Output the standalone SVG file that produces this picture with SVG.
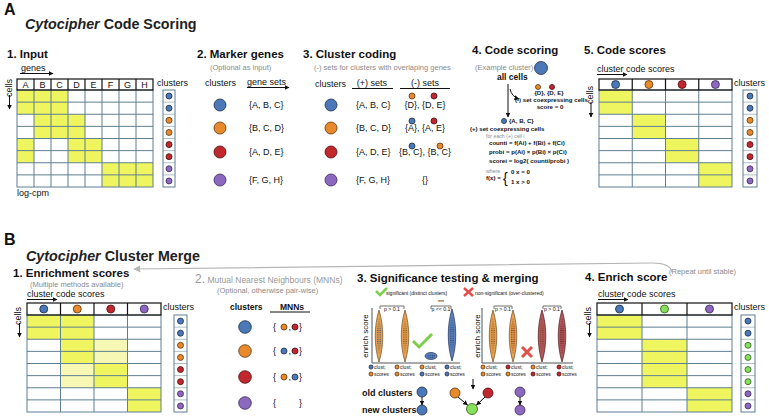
<svg xmlns="http://www.w3.org/2000/svg" width="769" height="417" viewBox="0 0 769 417">
<defs>
<style>
text{font-family:"Liberation Sans",Arial,sans-serif;fill:#111}
.big{font-size:16px;font-weight:bold}
.ttl{font-size:14.3px;font-weight:bold;fill:#222}
.sec{font-size:11.5px;font-weight:bold}
.sub{font-size:7.5px;fill:#8a8a8a}
.gr{fill:#999}
.lb{font-size:9px}
.lbb{font-size:8.5px;font-weight:bold}
.cell{font-size:9px;text-anchor:middle}
.f{font-size:6.1px;font-weight:bold}
.fs{font-size:5.2px;fill:#8a8a8a}
.lg{font-size:5px}
.pv{font-size:5.2px;text-anchor:middle}
.y{fill:#eef55e}
.py{fill:#f6f8b4}
.grid{stroke:#5f7f92;stroke-width:1;fill:none}
.hdr{stroke:#111;stroke-width:1.2;fill:none}
.cB{fill:#4a78b8;stroke:#1d2d48;stroke-width:.8}
.cO{fill:#e8892c;stroke:#5a3510;stroke-width:.8}
.cR{fill:#c1272d;stroke:#4a0f10;stroke-width:.8}
.cP{fill:#8c68c0;stroke:#3a2a55;stroke-width:.8}
.cG{fill:#86e05a;stroke:#2e5a1e;stroke-width:.8}
.ar{stroke:#111;stroke-width:1;fill:none}
.ax{stroke:#555;stroke-width:1;fill:none}
.br{stroke:#333;stroke-width:.7;fill:none}
.vO{fill:#e9a24e;stroke:#6b4a22;stroke-width:.7}
.vB{fill:#5a82bf;stroke:#1e2e4a;stroke-width:.7}
.vR{fill:#b5585c;stroke:#4a1a1a;stroke-width:.7}
</style>
<marker id="ah" viewBox="0 0 10 10" refX="9" refY="5" markerWidth="5" markerHeight="5" orient="auto"><path d="M0,0 L10,5 L0,10 z" fill="#111"/></marker>
<marker id="ahg" viewBox="0 0 10 10" refX="9" refY="5" markerWidth="6" markerHeight="6" orient="auto"><path d="M0,0 L10,5 L0,10 z" fill="#b5b5b5"/></marker>
<pattern id="dB" width="2.2" height="2.2" patternUnits="userSpaceOnUse"><circle cx="1.1" cy="1.1" r="0.65" fill="#243f73"/></pattern>
<pattern id="dO" width="2.2" height="2.2" patternUnits="userSpaceOnUse"><circle cx="1.1" cy="1.1" r="0.65" fill="#6e4010"/></pattern>
<pattern id="dR" width="2.2" height="2.2" patternUnits="userSpaceOnUse"><circle cx="1.1" cy="1.1" r="0.65" fill="#5a1010"/></pattern>
<path id="vio" d="M0,-26 C5,-10 5,10 0,26 C-5,10 -5,-10 0,-26Z"/>
<path id="vin" d="M0,-18 C3,-6 3,6 0,18 C-3,6 -3,-6 0,-18Z"/>
</defs>
<rect width="769" height="417" fill="#fff"/>

<!-- ===== A ===== -->
<g id="titleA">
<text class="big" x="4" y="15">A</text>
<text class="ttl" x="25" y="29"><tspan font-style="italic">Cytocipher</tspan> Code Scoring</text>
</g>

<g id="input">
<text class="sec" x="7" y="58">1. Input</text>
<text class="lb" x="21" y="71">genes</text>
<text class="lb" x="12" y="88" text-anchor="middle" transform="rotate(-90 12 88)">cells</text>
<rect class="y" x="17" y="90" width="51" height="24.25"/>
<rect class="y" x="34" y="114.25" width="51" height="24.25"/>
<rect class="y" x="17" y="138.5" width="17" height="24.25"/>
<rect class="y" x="68" y="138.5" width="34" height="24.25"/>
<rect class="y" x="102" y="162.75" width="51" height="24.25"/>
<rect class="grid" x="17" y="90" width="136" height="97"/>
<path class="grid" d="M17 102.125H153M17 114.25H153M17 126.375H153M17 138.5H153M17 150.625H153M17 162.75H153M17 174.875H153M34 90V187M51 90V187M68 90V187M85 90V187M102 90V187M119 90V187M136 90V187"/>
<rect class="hdr" x="17" y="79" width="136" height="11"/>
<path class="hdr" d="M34 79V90M51 79V90M68 79V90M85 79V90M102 79V90M119 79V90M136 79V90"/>
<text class="cell" x="25.5" y="88">A</text><text class="cell" x="42.5" y="88">B</text><text class="cell" x="59.5" y="88">C</text><text class="cell" x="76.5" y="88">D</text><text class="cell" x="93.5" y="88">E</text><text class="cell" x="110.5" y="88">F</text><text class="cell" x="127.5" y="88">G</text><text class="cell" x="144.5" y="88">H</text>
<text class="lb" x="17" y="196" font-size="8.5">log-cpm</text>
<text class="lb" x="157" y="86">clusters</text>
<rect class="grid" x="163" y="90" width="12" height="97"/>
<path class="grid" d="M163 102.125H175M163 114.25H175M163 126.375H175M163 138.5H175M163 150.625H175M163 162.75H175M163 174.875H175" stroke-opacity=".5"/>
<circle class="cB" cx="169" cy="96.06" r="3"/><circle class="cB" cx="169" cy="108.19" r="3"/><circle class="cO" cx="169" cy="120.31" r="3"/><circle class="cO" cx="169" cy="132.44" r="3"/><circle class="cR" cx="169" cy="144.56" r="3"/><circle class="cR" cx="169" cy="156.69" r="3"/><circle class="cP" cx="169" cy="168.81" r="3"/><circle class="cP" cx="169" cy="180.94" r="3"/>
</g>

<g id="marker-genes">
<text class="sec" x="197" y="58">2. Marker genes</text>
<text class="sub" x="210" y="70">(Optional as input)</text>
<text class="lb" x="205" y="86">clusters</text>
<text class="lb" x="247" y="85">gene sets</text>
<circle class="cB" cx="220" cy="105" r="6"/><circle class="cO" cx="220" cy="128" r="6"/><circle class="cR" cx="220" cy="152" r="6"/><circle class="cP" cx="220" cy="180" r="6"/>
<text class="lb" x="249" y="108">{A, B, C}</text>
<text class="lb" x="249" y="131">{B, C, D}</text>
<text class="lb" x="249" y="155">{A, D, E}</text>
<text class="lb" x="249" y="183">{F, G, H}</text>
</g>

<g id="cluster-coding">
<text class="sec" x="303" y="58">3. Cluster coding</text>
<text class="sub" x="314" y="70" font-size="7.3">(-) sets for clusters with overlaping genes</text>
<text class="lb" x="315" y="87">clusters</text>
<text class="lb" x="372" y="86" text-anchor="middle">(+) sets</text>
<text class="lb" x="425" y="86" text-anchor="middle">(-) sets</text>
<circle class="cB" cx="331" cy="105" r="6"/><circle class="cO" cx="331" cy="128" r="6"/><circle class="cR" cx="331" cy="152" r="6"/><circle class="cP" cx="331" cy="180" r="6"/>
<text class="lb" x="356" y="108">{A, B, C}</text>
<text class="lb" x="356" y="131">{B, C, D}</text>
<text class="lb" x="356" y="155">{A, D, E}</text>
<text class="lb" x="356" y="183">{F, G, H}</text>
<circle class="cO" cx="412" cy="96" r="3"/><circle class="cR" cx="434" cy="96" r="3"/>
<text class="lb" x="425" y="108" text-anchor="middle">{D}, {D, E}</text>
<circle class="cB" cx="412" cy="121" r="3"/><circle class="cR" cx="434" cy="121" r="3"/>
<text class="lb" x="425" y="131" text-anchor="middle">{A}, {A, E}</text>
<circle class="cB" cx="412" cy="146" r="3"/><circle class="cO" cx="440" cy="146" r="3"/>
<text class="lb" x="425" y="155" text-anchor="middle">{B, C}, {B, C}</text>
<text class="lb" x="425" y="183" text-anchor="middle">{}</text>
</g>

<g id="code-scoring">
<text class="sec" x="472" y="54">4. Code scoring</text>
<text class="sub" x="475" y="70" font-size="7">(Example cluster)</text>
<circle class="cB" cx="541" cy="68" r="6.5"/>
<text x="497" y="80" font-size="8.5" font-weight="bold">all cells</text>
<circle class="cO" cx="538" cy="87" r="2.5"/><circle class="cR" cx="552" cy="87" r="2.5"/>
<text class="f" x="549" y="95" text-anchor="middle" font-weight="normal">{D}, {D, E}</text>
<text class="f" x="515" y="102" font-size="5.7">(-) set coexpressing cells</text>
<text class="f" x="550" y="109" text-anchor="middle" font-weight="normal">score = 0</text>
<circle class="cB" cx="504" cy="121" r="2.5"/>
<text class="f" x="509" y="123" font-weight="normal">{A, B, C}</text>
<text class="f" x="470" y="131" font-size="6">(+) set coexpressing cells</text>
<text class="fs" x="486" y="138">for each (+) cell i</text>
<text class="f" x="489" y="145">counti = f(Ai) + f(Bi) + f(Ci)</text>
<text class="f" x="489" y="154">probi = p(Ai) × p(Bi) × p(Ci)</text>
<text class="f" x="489" y="163">scorei = log2( counti/probi )</text>
<text class="fs" x="486" y="173">where</text>
<text class="f" x="486" y="180">f(x) =</text>
<text x="503" y="183" font-size="14">{</text>
<text class="f" x="511" y="174">0  x = 0</text>
<text class="f" x="511" y="184">1  x &gt; 0</text>
</g>

<g id="code-scores">
<text class="sec" x="584" y="54">5. Code scores</text>
<text class="lb" x="597" y="72">cluster code scores</text>
<text class="lb" x="593" y="95" text-anchor="middle" transform="rotate(-90 593 95)">cells</text>
<rect class="y" x="599" y="90" width="33.25" height="24.25"/>
<rect class="y" x="632.25" y="114.25" width="33.25" height="24.25"/>
<rect class="y" x="665.5" y="138.5" width="33.25" height="24.25"/>
<rect class="y" x="698.75" y="162.75" width="33.25" height="24.25"/>
<rect class="grid" x="599" y="90" width="133" height="97"/>
<path class="grid" d="M599 102.125H732M599 114.25H732M599 126.375H732M599 138.5H732M599 150.625H732M599 162.75H732M599 174.875H732M632.25 90V187M665.5 90V187M698.75 90V187"/>
<rect class="hdr" x="599" y="79" width="133" height="11"/>
<path class="hdr" d="M632.25 79V90M665.5 79V90M698.75 79V90"/>
<circle class="cB" cx="615.6" cy="84.5" r="4"/><circle class="cO" cx="648.9" cy="84.5" r="4"/><circle class="cR" cx="682.1" cy="84.5" r="4"/><circle class="cP" cx="715.4" cy="84.5" r="4"/>
<text class="lb" x="734" y="86">clusters</text>
<rect class="grid" x="743" y="90" width="14" height="97"/>
<path class="grid" d="M743 102.125H757M743 114.25H757M743 126.375H757M743 138.5H757M743 150.625H757M743 162.75H757M743 174.875H757" stroke-opacity=".5"/>
<circle class="cB" cx="750" cy="96.06" r="3"/><circle class="cB" cx="750" cy="108.19" r="3"/><circle class="cO" cx="750" cy="120.31" r="3"/><circle class="cO" cx="750" cy="132.44" r="3"/><circle class="cR" cx="750" cy="144.56" r="3"/><circle class="cR" cx="750" cy="156.69" r="3"/><circle class="cP" cx="750" cy="168.81" r="3"/><circle class="cP" cx="750" cy="180.94" r="3"/>
</g>

<!-- ===== B ===== -->
<g id="titleB">
<text class="big" x="4" y="245">B</text>
<text class="ttl" x="26" y="261" font-size="14"><tspan font-style="italic">Cytocipher</tspan> Cluster Merge</text>
</g>

<g id="enrichment">
<text class="sec" x="13" y="277" font-size="11.8">1. Enrichment scores</text>
<text class="sub" x="30" y="287" font-size="6.8">(Multiple methods available)</text>
<text class="lb" x="27" y="297">cluster code scores</text>
<text class="lb" x="21" y="316" text-anchor="middle" transform="rotate(-90 21 316)">cells</text>
<rect class="y" x="27" y="315" width="67" height="24.25"/>
<rect class="y" x="60.5" y="339.25" width="33.5" height="24.25"/>
<rect class="py" x="94" y="339.25" width="33.5" height="24.25"/>
<rect class="py" x="60.5" y="363.5" width="33.5" height="24.25"/>
<rect class="y" x="94" y="363.5" width="33.5" height="24.25"/>
<rect class="y" x="127.5" y="387.75" width="33.5" height="24.25"/>
<rect class="grid" x="27" y="315" width="134" height="97"/>
<path class="grid" d="M27 327.125H161M27 339.25H161M27 351.375H161M27 363.5H161M27 375.625H161M27 387.75H161M27 399.875H161M60.5 315V412M94 315V412M127.5 315V412"/>
<rect class="hdr" x="27" y="303" width="134" height="12"/>
<path class="hdr" d="M60.5 303V315M94 303V315M127.5 303V315"/>
<circle class="cB" cx="43.75" cy="309" r="4"/><circle class="cO" cx="77.25" cy="309" r="4"/><circle class="cR" cx="110.75" cy="309" r="4"/><circle class="cP" cx="144.25" cy="309" r="4"/>
<text class="lb" x="163" y="310">clusters</text>
<rect class="grid" x="174" y="315" width="13" height="97"/>
<path class="grid" d="M174 327.125H187M174 339.25H187M174 351.375H187M174 363.5H187M174 375.625H187M174 387.75H187M174 399.875H187" stroke-opacity=".5"/>
<circle class="cB" cx="180.5" cy="321.06" r="3"/><circle class="cB" cx="180.5" cy="333.19" r="3"/><circle class="cO" cx="180.5" cy="345.31" r="3"/><circle class="cO" cx="180.5" cy="357.44" r="3"/><circle class="cR" cx="180.5" cy="369.56" r="3"/><circle class="cR" cx="180.5" cy="381.69" r="3"/><circle class="cP" cx="180.5" cy="393.81" r="3"/><circle class="cP" cx="180.5" cy="405.94" r="3"/>
</g>

<g id="mnn">
<text class="gr" x="195" y="283"><tspan font-size="12">2.</tspan><tspan font-size="8.5"> Mutual Nearest Neighbours (MNNs)</tspan></text>
<text class="sub" x="217" y="293" font-size="6.8">(Optional, otherwise pair-wise)</text>
<text class="lbb" x="230" y="310">clusters</text>
<text class="lbb" x="280" y="310">MNNs</text>
<circle class="cB" cx="245" cy="327" r="6.3"/><circle class="cO" cx="245" cy="351" r="6.3"/><circle class="cR" cx="245" cy="377" r="6.3"/><circle class="cP" cx="245" cy="403" r="6.3"/>
<text class="lb" x="273" y="330">{</text><circle class="cO" cx="284" cy="327" r="3"/><text class="lb" x="288.5" y="330">,</text><circle class="cR" cx="295" cy="327" r="3"/><text class="lb" x="299" y="330">}</text>
<text class="lb" x="273" y="354">{</text><circle class="cB" cx="284" cy="351" r="3"/><text class="lb" x="288.5" y="354">,</text><circle class="cR" cx="295" cy="351" r="3"/><text class="lb" x="299" y="354">}</text>
<text class="lb" x="273" y="380">{</text><circle class="cO" cx="284" cy="377" r="3"/><text class="lb" x="288.5" y="380">,</text><circle class="cB" cx="295" cy="377" r="3"/><text class="lb" x="299" y="380">}</text>
<text class="lb" x="273" y="406">{</text><text class="lb" x="299" y="406">}</text>
</g>

<g id="significance">
<text class="sec" x="357" y="282" font-size="11.9">3. Significance testing &amp; merging</text>
<path d="M376 291 L380 295 L387 288" stroke="#7ccf4a" stroke-width="2.5" fill="none"/>
<text class="lg" x="386" y="295" font-size="6">significant (distinct clusters)</text>
<path d="M464 288 L473 296 M473 288 L464 296" stroke="#e0504a" stroke-width="2.5" fill="none"/>
<text class="lg" x="475" y="295" font-size="6">non-significant (over-clustered)</text>
<!-- left plot -->
<text x="368" y="336" font-size="8" text-anchor="middle" transform="rotate(-90 368 336)">enrich score</text>
<path class="ax" d="M372 308V363H460"/>
<use href="#vio" x="379" y="336" class="vO"/><use href="#vin" x="379" y="336" fill="url(#dB)"/>
<use href="#vio" x="405" y="336" class="vO"/><use href="#vin" x="405" y="336" fill="url(#dO)"/>
<ellipse cx="431" cy="356" rx="6" ry="3.5" class="vB"/><ellipse cx="431" cy="356" rx="4" ry="2" fill="url(#dB)"/>
<use href="#vio" x="452" y="335" class="vB"/><use href="#vin" x="452" y="335" fill="url(#dB)"/>
<path class="br" d="M380 309V306H404V309"/>
<text class="pv" x="392" y="311">p &gt; 0.1</text>
<path class="br" d="M431 309V306H451V309"/>
<text class="pv" x="441" y="304">***</text>
<text class="pv" x="441" y="311">p &lt;&lt; 0.1</text>
<path d="M413 341 L419 347 L432 334" stroke="#7ccf4a" stroke-width="3" fill="none"/>
<circle class="cB" cx="371" cy="367" r="2"/><text class="lg" x="374" y="369">clust;</text>
<circle class="cO" cx="397" cy="367" r="2"/><text class="lg" x="400" y="369">clust;</text>
<circle class="cO" cx="422" cy="367" r="2"/><text class="lg" x="425" y="369">clust;</text>
<circle class="cB" cx="447" cy="367" r="2"/><text class="lg" x="450" y="369">clust;</text>
<circle class="cO" cx="371" cy="374" r="2"/><text class="lg" x="374" y="376">scores</text>
<circle class="cO" cx="397" cy="374" r="2"/><text class="lg" x="400" y="376">scores</text>
<circle class="cB" cx="422" cy="374" r="2"/><text class="lg" x="425" y="376">scores</text>
<circle class="cB" cx="447" cy="374" r="2"/><text class="lg" x="450" y="376">scores</text>
<!-- right plot -->
<text x="480" y="336" font-size="8" text-anchor="middle" transform="rotate(-90 480 336)">enrich score</text>
<path class="ax" d="M482 308V363H573"/>
<use href="#vio" x="493" y="336" class="vO"/><use href="#vin" x="493" y="336" fill="url(#dO)"/>
<use href="#vio" x="513" y="336" class="vO"/><use href="#vin" x="513" y="336" fill="url(#dR)"/>
<use href="#vio" x="542" y="336" class="vR"/><use href="#vin" x="542" y="336" fill="url(#dO)"/>
<use href="#vio" x="562" y="336" class="vR"/><use href="#vin" x="562" y="336" fill="url(#dR)"/>
<path class="br" d="M494 309V306H512V309"/>
<text class="pv" x="503" y="311">p &gt; 0.1</text>
<path class="br" d="M543 309V306H561V309"/>
<text class="pv" x="552" y="311">p &gt; 0.1</text>
<path d="M522 347 L532 357 M532 347 L522 357" stroke="#e0504a" stroke-width="3" fill="none"/>
<circle class="cO" cx="483" cy="367" r="2"/><text class="lg" x="486" y="369">clust;</text>
<circle class="cR" cx="508" cy="367" r="2"/><text class="lg" x="511" y="369">clust;</text>
<circle class="cO" cx="533" cy="367" r="2"/><text class="lg" x="536" y="369">clust;</text>
<circle class="cR" cx="559" cy="367" r="2"/><text class="lg" x="562" y="369">clust;</text>
<circle class="cO" cx="483" cy="374" r="2"/><text class="lg" x="486" y="376">scores</text>
<circle class="cO" cx="508" cy="374" r="2"/><text class="lg" x="511" y="376">scores</text>
<circle class="cR" cx="533" cy="374" r="2"/><text class="lg" x="536" y="376">scores</text>
<circle class="cR" cx="559" cy="374" r="2"/><text class="lg" x="562" y="376">scores</text>
<!-- merge result -->
<text x="362" y="396" font-size="9" font-weight="bold">old clusters</text>
<text x="362" y="413" font-size="9" font-weight="bold">new clusters</text>
<circle class="cB" cx="422" cy="392" r="5"/><circle class="cB" cx="422" cy="410" r="5"/>
<circle class="cO" cx="455" cy="393" r="5"/><circle class="cR" cx="488" cy="393" r="5"/>
<circle class="cG" cx="472" cy="409" r="5.5"/>
<circle class="cP" cx="520" cy="392" r="5"/><circle class="cP" cx="520" cy="410" r="5"/>
</g>

<g id="enrich-score">
<text class="sec" x="585" y="281" font-size="11.8">4. Enrich score</text>
<text class="sub" x="669" y="274" font-size="6.5">(Repeat until stable)</text>
<text class="lb" x="598" y="297">cluster code scores</text>
<text class="lb" x="591" y="316" text-anchor="middle" transform="rotate(-90 591 316)">cells</text>
<rect class="y" x="597" y="315" width="45" height="24.25"/>
<rect class="y" x="642" y="339.25" width="45" height="48.5"/>
<rect class="y" x="687" y="387.75" width="45" height="24.25"/>
<rect class="grid" x="597" y="315" width="135" height="97"/>
<path class="grid" d="M597 327.125H732M597 339.25H732M597 351.375H732M597 363.5H732M597 375.625H732M597 387.75H732M597 399.875H732M642 315V412M687 315V412"/>
<rect class="hdr" x="597" y="303" width="135" height="12"/>
<path class="hdr" d="M642 303V315M687 303V315"/>
<circle class="cB" cx="619.5" cy="309" r="4"/><circle class="cG" cx="664.5" cy="309" r="4"/><circle class="cP" cx="709.5" cy="309" r="4"/>
<text class="lb" x="734" y="310">clusters</text>
<rect class="grid" x="741" y="315" width="14" height="97"/>
<path class="grid" d="M741 327.125H755M741 339.25H755M741 351.375H755M741 363.5H755M741 375.625H755M741 387.75H755M741 399.875H755" stroke-opacity=".5"/>
<circle class="cB" cx="748" cy="321.06" r="3"/><circle class="cB" cx="748" cy="333.19" r="3"/><circle class="cG" cx="748" cy="345.31" r="3"/><circle class="cG" cx="748" cy="357.44" r="3"/><circle class="cG" cx="748" cy="369.56" r="3"/><circle class="cG" cx="748" cy="381.69" r="3"/><circle class="cP" cx="748" cy="393.81" r="3"/><circle class="cP" cx="748" cy="405.94" r="3"/>
</g>

<g id="connectors">
<line class="ar" x1="20" y1="73.5" x2="53" y2="73.5" marker-end="url(#ah)"/>
<line class="ar" x1="9.5" y1="95" x2="9.5" y2="109" marker-end="url(#ah)"/>
<line class="ar" x1="247" y1="87.5" x2="289" y2="87.5" marker-end="url(#ah)"/>
<line class="ar" x1="352" y1="88.5" x2="393" y2="88.5"/>
<line class="ar" x1="400" y1="88.5" x2="450" y2="88.5"/>
<line class="ar" x1="508" y1="84" x2="508" y2="117" marker-end="url(#ah)"/>
<path class="ar" d="M510 89 Q512 97 519 99" marker-end="url(#ah)"/>
<line class="ar" x1="597" y1="74.5" x2="627" y2="74.5" marker-end="url(#ah)"/>
<line class="ar" x1="591" y1="102" x2="591" y2="117" marker-end="url(#ah)"/>
<path d="M672 272 Q670 263 652 263 L134 269" stroke="#b5b5b5" stroke-width="1.2" fill="none" marker-end="url(#ahg)"/>
<line class="ar" x1="27" y1="299.5" x2="57" y2="299.5" marker-end="url(#ah)"/>
<line class="ar" x1="19.5" y1="323" x2="19.5" y2="337" marker-end="url(#ah)"/>
<line class="ar" x1="270" y1="312" x2="310" y2="312"/>
<line class="ar" x1="473" y1="379" x2="473" y2="389" marker-end="url(#ah)"/>
<line class="ar" x1="422" y1="397" x2="422" y2="405" marker-end="url(#ah)"/>
<line class="ar" x1="458" y1="397" x2="467.5" y2="405" marker-end="url(#ah)"/>
<line class="ar" x1="485" y1="397" x2="476.5" y2="405" marker-end="url(#ah)"/>
<line class="ar" x1="520" y1="397" x2="520" y2="405" marker-end="url(#ah)"/>
<line class="ar" x1="598" y1="299.5" x2="628" y2="299.5" marker-end="url(#ah)"/>
<line class="ar" x1="589.5" y1="323" x2="589.5" y2="337" marker-end="url(#ah)"/>
</g>
</svg>
